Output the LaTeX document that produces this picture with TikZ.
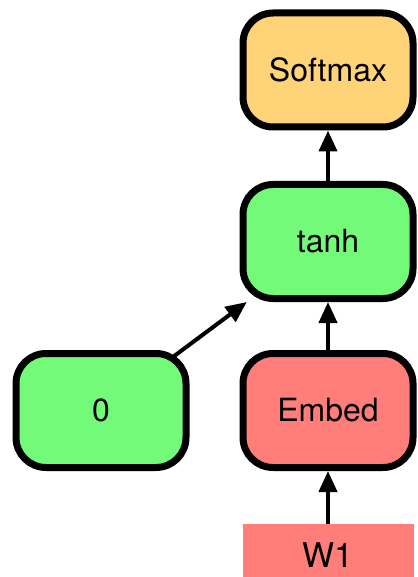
\documentclass[tikz,border=0pt]{standalone}
\usepackage{fontspec}
\setmainfont{TeX Gyre Heros}
\usetikzlibrary{arrows.meta}
\definecolor{mygreen}{HTML}{73FA79}
\definecolor{myorange}{HTML}{FFD479}
\definecolor{myred}{HTML}{FF7E79}
\tikzset{>={Triangle[length=10.5pt,width=9pt]}}
\tikzset{
  op/.style={draw=black,fill=#1,line width=3.5pt,rounded corners=15pt,
             minimum width=85pt,minimum height=57pt,inner sep=0pt,
             font=\fontsize{16}{19}\selectfont},
  op/.default=mygreen,
  input/.style={fill=myred,minimum width=85.5pt,minimum height=31pt,
                inner sep=0pt,font=\fontsize{17}{20}\selectfont},
  link/.style={->,line width=2pt}
}

\begin{document}
\begin{tikzpicture}[x=0.5pt,y=-0.5pt]
  \clip (0,0) rectangle (417,577);
  
  % NODES
  \node[op=myorange] (softmax) at (328,70)    {Softmax};
  \node[op]          (tanh)    at (328,241.5) {tanh};
  \node[op]          (zero)    at (101,410.5) {0};
  \node[op=myred]    (embed)   at (328,410.5) {Embed};
  \node[input]       (w1)      at (328,555)   {W1};
  
  % EDGES
  \draw[link] (w1) -- (embed);
  \draw[link] (embed) -- (tanh);
  \draw[link,shorten <=-5pt] (zero) -- (tanh);
  \draw[link] (tanh) -- (softmax);
  
\end{tikzpicture}
\end{document}
